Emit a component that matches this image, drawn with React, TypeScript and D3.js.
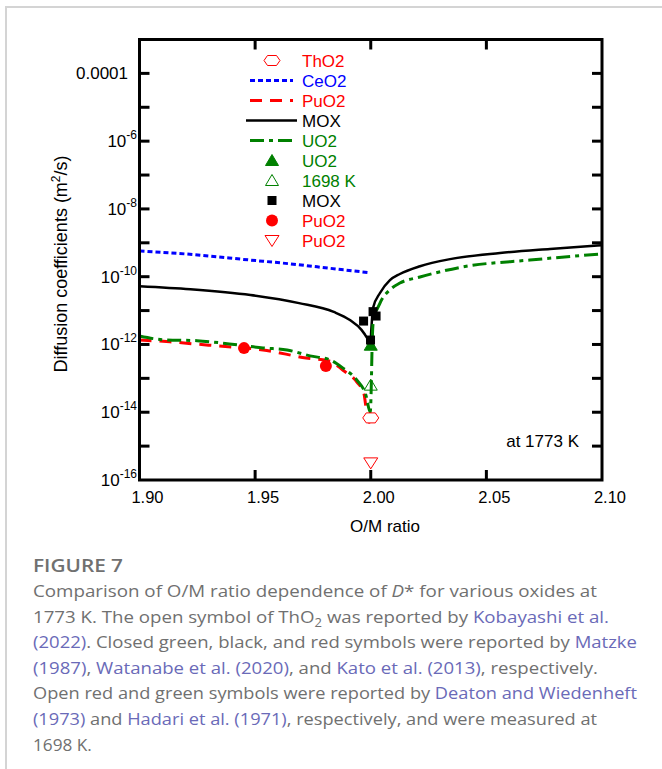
import React, { useEffect, useRef } from 'react';
import * as d3 from 'd3';

// O/M ratio vs diffusion coefficient (m^2/s)
const omCeO2 = [1.90, 1.92, 1.948, 1.965, 1.982, 1.999];
const dCeO2 = [5.75e-10, 4.68e-10, 3.09e-10, 2.4e-10, 1.78e-10, 1.32e-10];

const omPuO2 = [1.90, 1.9132, 1.9249, 1.9335, 1.9534, 1.972, 1.9824, 1.988, 1.994, 1.997, 1.9983, 1.9997];
const dPuO2 = [1.35e-12, 1.2e-12, 1.02e-12, 9.1e-13, 6.9e-13, 4.0e-13, 3.2e-13, 1.74e-13, 7.8e-14, 3.7e-14, 9.3e-15, 4.7e-15];

const omMOX = [1.90, 1.922, 1.948, 1.969, 1.984, 1.991, 1.996, 1.9984, 1.9998, 2.0003, 2.001, 2.004, 2.0083, 2.0126, 2.0213, 2.0343, 2.0559, 2.0775, 2.1];
const dMOX = [5.25e-11, 4.27e-11, 2.88e-11, 1.66e-11, 9.1e-12, 5.25e-12, 2.69e-12, 1.55e-12, 9.8e-13, 3.2e-12, 1.2e-11, 3.3e-11, 7.9e-11, 1.2e-10, 2.04e-10, 3.3e-10, 5.0e-10, 6.6e-10, 8.5e-10];

const omUO2 = [1.90, 1.9102, 1.9249, 1.9435, 1.9534, 1.9638, 1.9737, 1.9824, 1.988, 1.994, 1.9979, 1.9998, 2.0002, 2.0006, 2.001, 2.004, 2.0083, 2.0126, 2.0213, 2.0399, 2.0688, 2.1];
const dUO2 = [1.78e-12, 1.38e-12, 1.29e-12, 9.5e-13, 7.9e-13, 6.9e-13, 4.6e-13, 3.5e-13, 2.0e-13, 8.9e-14, 3.2e-14, 1.0e-14, 5.0e-14, 9.5e-13, 4.0e-12, 1.66e-11, 4.1e-11, 6.5e-11, 9.8e-11, 1.95e-10, 3.1e-10, 4.7e-10];

// measured points
const ptThO2 = { om: [2.0], d: [6.8e-15] };
const ptUO2 = { om: [2.0], d: [9.5e-13] };
const ptUO2_1698 = { om: [2.0], d: [6.3e-14] };
const ptMOX = { om: [1.9969, 2.001, 2.0023, 1.9999], d: [4.9e-12, 9.3e-12, 6.9e-12, 1.35e-12] };
const ptPuO2 = { om: [1.9452, 1.9806], d: [7.8e-13, 2.3e-13] };
const ptPuO2_1698 = { om: [2.0], d: [3.2e-16] };

const xTicks = [1.9, 1.95, 2.0, 2.05, 2.1];
const xTickLabels = ['1.90', '1.95', '2.00', '2.05', '2.10'];
const yDecades = d3.range(-16, -3); // tick at each decade
const yLabelled = [-16, -14, -12, -10, -8, -6, -4];

const legendLabels = ['ThO2', 'CeO2', 'PuO2', 'MOX', 'UO2', 'UO2', '1698 K', 'MOX', 'PuO2', 'PuO2'];
const legendKinds = ['hex', 'dot', 'dash', 'solid', 'dashdot', 'tri', 'otri', 'square', 'circle', 'itri'];
const legendColors = ['#ff0000', '#0000ff', '#ff0000', '#000000', '#008000', '#008000', '#008000', '#000000', '#ff0000', '#ff0000'];

type Seg = { t: string; link?: boolean; it?: boolean; sub?: boolean };
const captionLines: Seg[][] = [
  [{ t: 'Comparison of O/M ratio dependence of ' }, { t: 'D', it: true }, { t: '* for various oxides at' }],
  [{ t: '1773 K. The open symbol of ThO' }, { t: '2', sub: true }, { t: ' was reported by ' }, { t: 'Kobayashi et al.', link: true }],
  [{ t: '(2022)', link: true }, { t: '. Closed green, black, and red symbols were reported by ' }, { t: 'Matzke', link: true }],
  [{ t: '(1987)', link: true }, { t: ', ' }, { t: 'Watanabe et al. (2020)', link: true }, { t: ', and ' }, { t: 'Kato et al. (2013)', link: true }, { t: ', respectively.' }],
  [{ t: 'Open red and green symbols were reported by ' }, { t: 'Deaton and Wiedenheft', link: true }],
  [{ t: '(1973)', link: true }, { t: ' and ' }, { t: 'Hadari et al. (1971)', link: true }, { t: ', respectively, and were measured at' }],
  [{ t: '1698 K.' }],
];
const captionWidths = [564, 576, 604, 565, 604, 564, 0];

const FONT = '"Liberation Sans", Arial, sans-serif';

const App: React.FC = () => {
  const svgRef = useRef<SVGSVGElement>(null);

  useEffect(() => {
    const svg = d3.select(svgRef.current).html('');
    const W = 662, H = 769;
    const m = { left: 139.5, top: 39.5, right: 602, bottom: 480 };

    const x = d3.scaleLinear().domain([1.9, 2.1]).range([m.left, m.right]);
    const y = d3.scaleLog().domain([1e-16, 1e-3]).range([m.bottom, m.top]);

    svg.append('rect').attr('width', W).attr('height', H).attr('fill', '#fff');
    // card border
    svg.append('path').attr('d', `M6,${H} V7 H${W}`).attr('fill', 'none')
      .attr('stroke', '#d4d4d4').attr('stroke-width', 2);

    const g = svg.append('g');

    const styles: Record<string, { color: string; dash: string | null; w: number }> = {
      dot: { color: '#0000ff', dash: '5,3', w: 3 },
      dash: { color: '#ff0000', dash: '12,8', w: 3 },
      solid: { color: '#000000', dash: null, w: 2.5 },
      dashdot: { color: '#008000', dash: '14,5,4,5', w: 3 },
    };

    const line = d3.line<[number, number]>()
      .x(d => x(d[0])).y(d => y(d[1])).curve(d3.curveMonotoneX);

    const drawLine = (om: number[], d: number[], kind: string) => {
      const s = styles[kind];
      g.append('path')
        .datum(om.map((o, i) => [o, d[i]] as [number, number]))
        .attr('d', line)
        .attr('fill', 'none')
        .attr('stroke', s.color)
        .attr('stroke-width', s.w)
        .attr('stroke-dasharray', s.dash);
    };

    drawLine(omCeO2, dCeO2, 'dot');
    drawLine(omMOX, dMOX, 'solid');
    drawLine(omPuO2, dPuO2, 'dash');
    drawLine(omUO2, dUO2, 'dashdot');

    const symbol = (sel: d3.Selection<any, any, any, any>, kind: string, color: string) => {
      if (kind === 'hex') {
        sel.append('path').attr('d', 'M-8,0 L-4.5,-5 L4.5,-5 L8,0 L4.5,5 L-4.5,5 Z')
          .attr('fill', '#fff').attr('stroke', color).attr('stroke-width', 1);
      } else if (kind === 'tri' || kind === 'otri') {
        sel.append('path').attr('d', 'M0,-6 L6.5,5 L-6.5,5 Z')
          .attr('fill', kind === 'tri' ? color : 'none')
          .attr('stroke', color).attr('stroke-width', 1);
      } else if (kind === 'itri') {
        sel.append('path').attr('d', 'M-7,-5 L7,-5 L0,6 Z')
          .attr('fill', '#fff').attr('stroke', color).attr('stroke-width', 1);
      } else if (kind === 'square') {
        sel.append('rect').attr('x', -4.5).attr('y', -4.5).attr('width', 9).attr('height', 9).attr('fill', color);
      } else if (kind === 'circle') {
        sel.append('circle').attr('r', 6).attr('fill', color);
      }
    };

    const drawPts = (p: { om: number[]; d: number[] }, kind: string, color: string) => {
      p.om.forEach((o, i) => {
        const s = g.append('g').attr('transform', `translate(${x(o)},${y(p.d[i])})`);
        symbol(s, kind, color);
      });
    };

    drawPts(ptUO2, 'tri', '#008000');
    drawPts(ptMOX, 'square', '#000000');
    drawPts(ptPuO2, 'circle', '#ff0000');
    drawPts(ptUO2_1698, 'otri', '#008000');
    drawPts(ptThO2, 'hex', '#ff0000');
    drawPts(ptPuO2_1698, 'itri', '#ff0000');

    // frame + ticks
    const ax = svg.append('g').attr('stroke', '#000').attr('stroke-width', 3);
    ax.append('rect').attr('x', m.left).attr('y', m.top)
      .attr('width', m.right - m.left).attr('height', m.bottom - m.top).attr('fill', 'none');
    const TL = 10;
    xTicks.slice(1, -1).forEach(t => {
      ax.append('line').attr('x1', x(t)).attr('x2', x(t)).attr('y1', m.bottom).attr('y2', m.bottom - TL);
      ax.append('line').attr('x1', x(t)).attr('x2', x(t)).attr('y1', m.top).attr('y2', m.top + TL);
    });
    yDecades.slice(1).forEach(e => {
      const yy = y(Math.pow(10, e));
      ax.append('line').attr('x1', m.left).attr('x2', m.left + TL).attr('y1', yy).attr('y2', yy);
      ax.append('line').attr('x1', m.right).attr('x2', m.right - TL).attr('y1', yy).attr('y2', yy);
    });

    const txt = svg.append('g').style('font-family', FONT).attr('font-size', 17).attr('fill', '#000');
    xTicks.forEach((t, i) => {
      txt.append('text').attr('x', x(t) + 8).attr('y', m.bottom + 23).attr('font-size', 16.5)
        .attr('text-anchor', 'middle').text(xTickLabels[i]);
    });
    yLabelled.forEach(e => {
      const yy = y(Math.pow(10, e)) + 6;
      if (e === -4) {
        txt.append('text').attr('x', 128).attr('y', yy).attr('text-anchor', 'end').text('0.0001');
      } else {
        const t = txt.append('text').attr('x', 137).attr('y', yy).attr('text-anchor', 'end');
        t.append('tspan').text('10');
        t.append('tspan').attr('font-size', 12).attr('dy', -8).text(String(e));
      }
    });

    txt.append('text').attr('x', 385).attr('y', 532).attr('text-anchor', 'middle').text('O/M ratio');
    const yt = txt.append('text').attr('transform', 'translate(67,264) rotate(-90)')
      .attr('text-anchor', 'middle').attr('font-size', 18);
    yt.append('tspan').text('Diffusion coefficients (m');
    yt.append('tspan').attr('font-size', 12).attr('dy', -7).text('2');
    yt.append('tspan').attr('dy', 7).text('/s)');

    txt.append('text').attr('x', 579).attr('y', 447).attr('text-anchor', 'end').text('at 1773 K');

    // legend
    legendLabels.forEach((lab, i) => {
      const ly = 60.5 + i * 20;
      const kind = legendKinds[i];
      const col = legendColors[i];
      if (styles[kind]) {
        const s = styles[kind];
        const x0 = kind === 'solid' ? 246 : 250;
        const x1 = kind === 'solid' ? 297 : 293;
        g.append('line').attr('x1', x0).attr('x2', x1).attr('y1', ly).attr('y2', ly)
          .attr('stroke', s.color).attr('stroke-width', s.w).attr('stroke-dasharray', s.dash);
      } else {
        symbol(g.append('g').attr('transform', `translate(272,${ly})`), kind, col);
      }
      txt.append('text').attr('x', 302).attr('y', ly + 6).attr('fill', col).text(lab);
    });

    // caption
    const cap = svg.append('g').style('font-family', '"Open Sans", Lato, sans-serif').attr('fill', '#707070');
    cap.append('text').attr('x', 33).attr('y', 572).attr('font-size', 18).attr('font-weight', 600)
      .attr('textLength', 90).attr('lengthAdjust', 'spacingAndGlyphs')
      .text('FIGURE 7');
    captionLines.forEach((segs, i) => {
      const t = cap.append('text').attr('x', 33).attr('y', 597 + i * 25.6).attr('font-size', 17.2);
      if (captionWidths[i]) t.attr('textLength', captionWidths[i]).attr('lengthAdjust', 'spacingAndGlyphs');
      const subIdx = segs.findIndex(q => q.sub);
      segs.forEach((s, j) => {
        const sp = t.append('tspan').text(s.t);
        if (s.link) sp.attr('fill', '#6a6ab8');
        if (s.it) sp.attr('font-style', 'italic');
        if (s.sub) sp.attr('font-size', 12).attr('dy', 4);
        if (subIdx >= 0 && j === subIdx + 1) sp.attr('dy', -4);
      });
    });
  }, []);

  return (
    <div style={{ position: 'fixed', left: 0, top: 0 }}>
      <svg ref={svgRef} width={662} height={769} style={{ display: 'block' }} />
    </div>
  );
};

export default App;
